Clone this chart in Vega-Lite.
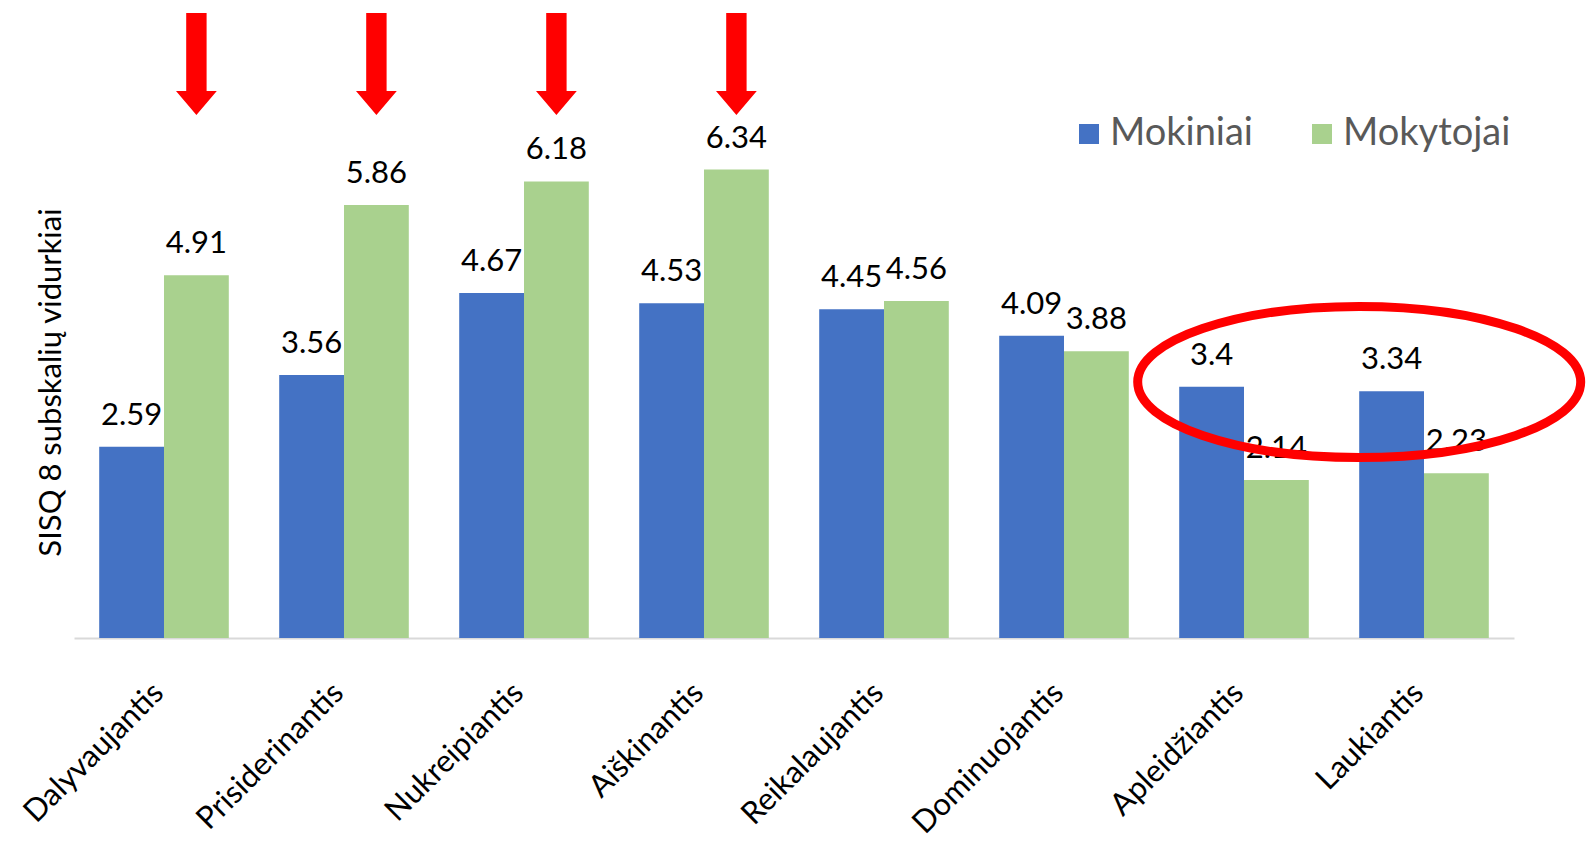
{
  "$schema": "https://vega.github.io/schema/vega-lite/v6.json",
  "autosize": {"type": "none"},
  "width": 1440,
  "height": 628,
  "padding": {"left": 74, "top": 10, "right": 78, "bottom": 203},
  "background": "white",
  "config": {"view": {"stroke": null}, "font": "Lato"},
  "data": {"values": [
    {"cat": "Dalyvaujantis", "group": "Mokiniai", "value": 2.59},
    {"cat": "Dalyvaujantis", "group": "Mokytojai", "value": 4.91},
    {"cat": "Prisiderinantis", "group": "Mokiniai", "value": 3.56},
    {"cat": "Prisiderinantis", "group": "Mokytojai", "value": 5.86},
    {"cat": "Nukreipiantis", "group": "Mokiniai", "value": 4.67},
    {"cat": "Nukreipiantis", "group": "Mokytojai", "value": 6.18},
    {"cat": "Aiškinantis", "group": "Mokiniai", "value": 4.53},
    {"cat": "Aiškinantis", "group": "Mokytojai", "value": 6.34},
    {"cat": "Reikalaujantis", "group": "Mokiniai", "value": 4.45},
    {"cat": "Reikalaujantis", "group": "Mokytojai", "value": 4.56},
    {"cat": "Dominuojantis", "group": "Mokiniai", "value": 4.09},
    {"cat": "Dominuojantis", "group": "Mokytojai", "value": 3.88},
    {"cat": "Apleidžiantis", "group": "Mokiniai", "value": 3.4},
    {"cat": "Apleidžiantis", "group": "Mokytojai", "value": 2.14},
    {"cat": "Laukiantis", "group": "Mokiniai", "value": 3.34},
    {"cat": "Laukiantis", "group": "Mokytojai", "value": 2.23}
  ]},
  "encoding": {
    "x": {
      "field": "cat", "type": "nominal", "sort": null,
      "scale": {"paddingInner": 0.28, "paddingOuter": 0.14},
      "axis": {
        "title": null, "ticks": false, "labelAngle": -45, "labelFont": "Lato",
        "labelFontSize": 31, "labelColor": "#000000", "labelPadding": 50,
        "labelOffset": -5, "labelLimit": 0, "labelAlign": "right", "labelBaseline": "middle",
        "domainColor": "#D9D9D9", "domainWidth": 2
      }
    },
    "y": {
      "field": "value", "type": "quantitative",
      "scale": {"domain": [0, 8.5], "nice": false},
      "axis": {
        "title": "SISQ  8 subskalių vidurkiai", "labels": false, "ticks": false,
        "domain": false, "grid": false, "titleFont": "Lato", "titleFontSize": 31,
        "titleFontWeight": "normal", "titleColor": "#000000", "titleAngle": -90,
        "titleX": -23, "titleY": 372, "titleAlign": "center", "titleBaseline": "middle"
      }
    }
  },
  "layer": [
    {
      "mark": {"type": "bar"},
      "encoding": {
        "xOffset": {"field": "group", "type": "nominal", "scale": {"paddingInner": 0, "paddingOuter": 0}},
        "color": {
          "field": "group", "type": "nominal",
          "scale": {"domain": ["Mokiniai", "Mokytojai"], "range": ["#4472C4", "#A9D18E"]},
          "legend": {
            "title": null, "orient": "none", "direction": "horizontal",
            "legendX": 996, "legendY": 105, "padding": 0,
            "symbolType": "square", "symbolSize": 400, "symbolStrokeWidth": 0,
            "labelFont": "Lato", "labelFontSize": 38, "labelColor": "#595959",
            "labelOffset": 2, "columnPadding": 50, "labelLimit": 0
          }
        }
      }
    },
    {
      "mark": {"type": "text", "baseline": "alphabetic", "dy": -22, "fontSize": 31, "font": "Lato", "color": "#000000"},
      "encoding": {
        "xOffset": {"field": "group", "type": "nominal"},
        "text": {"field": "value", "type": "quantitative", "format": "~g"}
      }
    },
    {
      "transform": [
        {"filter": {"field": "group", "equal": "Mokytojai"}},
        {"filter": {"field": "cat", "oneOf": ["Dalyvaujantis", "Prisiderinantis", "Nukreipiantis", "Aiškinantis"]}}
      ],
      "mark": {
        "type": "point", "filled": true, "fill": "#FF0000", "strokeWidth": 0, "opacity": 1,
        "shape": "M -0.2 -1 L 0.2 -1 L 0.2 0.53 L 0.4 0.53 L 0 1 L -0.4 0.53 L -0.2 0.53 Z",
        "size": 10404
      },
      "encoding": {
        "xOffset": {"field": "group", "type": "nominal"},
        "y": {"datum": 7.77}
      }
    },
    {
      "transform": [
        {"filter": {"field": "group", "equal": "Mokiniai"}},
        {"filter": {"field": "cat", "equal": "Laukiantis"}}
      ],
      "mark": {
        "type": "point", "filled": false, "stroke": "#FF0000", "strokeWidth": 9, "opacity": 1,
        "shape": "M -1 0 A 1 0.341 0 1 0 1 0 A 1 0.341 0 1 0 -1 0 Z",
        "size": 196249
      },
      "encoding": {
        "x": {"field": "cat", "type": "nominal", "sort": null, "bandPosition": 0},
        "y": {"datum": 3.465}
      }
    }
  ]
}
